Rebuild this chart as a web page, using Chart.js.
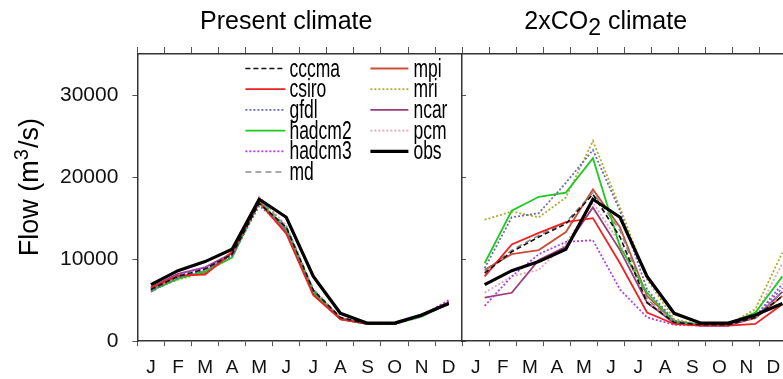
<!DOCTYPE html>
<html>
<head>
<meta charset="utf-8">
<script src="https://cdn.jsdelivr.net/npm/chart.js@4.4.1/dist/chart.umd.min.js"></script>
<style>
  html, body { margin: 0; padding: 0; background: #fff; overflow: hidden; }
  #wrap { width: 797px; height: 379px; }
</style>
</head>
<body>
<div id="wrap"><canvas id="flow" width="797" height="379"></canvas></div>
<script>
const months = ['J', 'F', 'M', 'A', 'M', 'J', 'J', 'A', 'S', 'O', 'N', 'D'];
const yTicks = [0, 10000, 20000, 30000];
const yMax = 35000;
const panelTitles = ['Present climate', '2xCO2 climate'];

// present climate (m3/s)
const cccmaPresent  = [6300, 7900, 8800, 10600, 16800, 13900, 6200, 2900, 2100, 2100, 3100, 4600];
const csiroPresent  = [6500, 8000, 8100, 10800, 16900, 13100, 5600, 2700, 2100, 2100, 3200, 4700];
const gfdlPresent   = [6100, 7700, 8700, 10400, 16500, 13800, 6100, 2800, 2100, 2100, 3000, 4800];
const hadcm2Present = [6200, 7600, 8500, 10200, 17000, 13700, 6000, 2700, 2100, 2100, 3000, 4600];
const hadcm3Present = [6400, 8100, 9000, 10500, 17200, 13500, 5800, 2700, 2100, 2100, 3100, 5000];
const mdPresent     = [6000, 7700, 8600, 10500, 17300, 14000, 6300, 2800, 2100, 2100, 3100, 4700];
const mpiPresent    = [6400, 7900, 8300, 10900, 17100, 13300, 5800, 2700, 2100, 2100, 3200, 4600];
const mriPresent    = [6200, 7500, 8400, 10300, 16900, 13700, 6100, 2800, 2100, 2100, 3000, 4700];
const ncarPresent   = [6600, 8200, 9000, 10700, 17000, 13400, 5800, 2700, 2100, 2100, 3100, 4500];
const pcmPresent    = [6200, 7800, 8800, 10700, 17600, 14100, 6400, 2900, 2100, 2100, 3200, 4900];

// 2xCO2 climate
const cccmaFuture  = [8300, 10900, 12700, 14300, 17900, 12700, 4700, 2300, 2000, 2000, 2900, 5500];
const csiroFuture  = [7900, 11800, 13200, 14500, 15000, 9500, 3500, 2100, 1900, 1900, 2100, 4500];
const gfdlFuture   = [8900, 15100, 15600, 19300, 23300, 15900, 6300, 2500, 2000, 2000, 3000, 7000];
const hadcm2Future = [9500, 15900, 17600, 18100, 22300, 11500, 5900, 2400, 2000, 2100, 3500, 7900];
const hadcm3Future = [4300, 7900, 10600, 12100, 12300, 6300, 2900, 2000, 1900, 1900, 3000, 6500];
const mdFuture     = [8500, 11100, 12900, 14500, 18100, 13500, 5100, 2400, 2000, 2000, 2900, 6000];
const mpiFuture    = [8700, 10600, 11100, 13300, 18500, 13900, 5500, 2400, 2000, 2000, 2800, 5500];
const mriFuture    = [14800, 15800, 15100, 17500, 24400, 16300, 7500, 2700, 2000, 2000, 3900, 10800];
const ncarFuture   = [5300, 5900, 9900, 11500, 16300, 11100, 4700, 2200, 1900, 1900, 2900, 6000];
const pcmFuture    = [5900, 7900, 8700, 11900, 16900, 11900, 4900, 2300, 1900, 1900, 3100, 9500];

// observed, same in both panels
const obsFlow = [6900, 8600, 9700, 11200, 17300, 15100, 7900, 3400, 2200, 2200, 3200, 4600];

const FONT = "'Liberation Sans', Arial, Helvetica, sans-serif";
const futureShift = 0.33; // right panel curves sit a little right of the month centres

const series = [
  { name: 'cccma',  present: cccmaPresent,  future: cccmaFuture,  color: '#111111', dash: [5, 3], width: 1.6 },
  { name: 'csiro',  present: csiroPresent,  future: csiroFuture,  color: '#ee2020', dash: [],     width: 1.8 },
  { name: 'gfdl',   present: gfdlPresent,   future: gfdlFuture,   color: '#6a6ab0', dash: [2, 2], width: 1.8 },
  { name: 'hadcm2', present: hadcm2Present, future: hadcm2Future, color: '#22c822', dash: [],     width: 1.8 },
  { name: 'hadcm3', present: hadcm3Present, future: hadcm3Future, color: '#b03cf0', dash: [2, 2], width: 1.8 },
  { name: 'md',     present: mdPresent,     future: mdFuture,     color: '#8c8c8c', dash: [6, 4], width: 1.6 },
  { name: 'mpi',    present: mpiPresent,    future: mpiFuture,    color: '#c8503a', dash: [],     width: 1.8 },
  { name: 'mri',    present: mriPresent,    future: mriFuture,    color: '#b0ab2a', dash: [2, 2], width: 1.8 },
  { name: 'ncar',   present: ncarPresent,   future: ncarFuture,   color: '#9a3d78', dash: [],     width: 1.8 },
  { name: 'pcm',    present: pcmPresent,    future: pcmFuture,    color: '#e3a3b8', dash: [2, 2], width: 1.8 },
  { name: 'obs',    present: obsFlow,       future: obsFlow,      color: '#000000', dash: [],     width: 3.2 }
];

const datasets = [];
series.forEach(s => {
  const style = {
    label: s.name, borderColor: s.color, borderDash: s.dash, borderWidth: s.width,
    pointRadius: 0, tension: 0, fill: false, order: s.name === 'obs' ? 0 : 1
  };
  datasets.push(Object.assign({ data: s.present.map((v, i) => ({ x: i + 0.5, y: v })) }, style));
  datasets.push(Object.assign({ data: s.future.map((v, i) => ({ x: 12 + i + 0.5 + futureShift, y: v })) }, style));
});

const isMark = v => Number.isInteger(v);

// panel titles, y title and the in-plot legend
const decor = {
  id: 'decor',
  afterDraw(chart) {
    const ctx = chart.ctx, area = chart.chartArea, xs = chart.scales.x;
    ctx.save();
    ctx.fillStyle = '#000';
    ctx.textBaseline = 'alphabetic';

    // titles
    ctx.font = '25px ' + FONT;
    ctx.textAlign = 'center';
    ctx.fillText(panelTitles[0], xs.getPixelForValue(5.5), 29);
    const a = '2xCO', b = '2', c = ' climate';
    ctx.textAlign = 'left';
    const wa = ctx.measureText(a).width, wc = ctx.measureText(c).width;
    ctx.font = '23px ' + FONT;
    const wb = ctx.measureText(b).width;
    let tx = xs.getPixelForValue(17.3) - (wa + wb + wc) / 2;
    ctx.font = '25px ' + FONT;
    ctx.fillText(a, tx, 29);
    ctx.font = '23px ' + FONT;
    ctx.fillText(b, tx + wa, 35);
    ctx.font = '25px ' + FONT;
    ctx.fillText(c, tx + wa + wb, 29);

    // y axis title
    ctx.save();
    ctx.translate(38, (area.top + area.bottom) / 2 - 10);
    ctx.rotate(-Math.PI / 2);
    ctx.font = '27px ' + FONT;
    const p1 = 'Flow (m', p3 = '/s)';
    const w1 = ctx.measureText(p1).width, w3 = ctx.measureText(p3).width;
    ctx.font = '20px ' + FONT;
    const w2 = ctx.measureText('3').width;
    let px = -(w1 + w2 + w3) / 2;
    ctx.font = '27px ' + FONT;
    ctx.fillText(p1, px, 0);
    ctx.font = '20px ' + FONT;
    ctx.fillText('3', px + w1, -10);
    ctx.font = '27px ' + FONT;
    ctx.fillText(p3, px + w1 + w2 + 1, 0);
    ctx.restore();

    // legend, two columns
    const cols = [
      { names: ['cccma', 'csiro', 'gfdl', 'hadcm2', 'hadcm3', 'md'], x0: 108, x1: 148, tx: 152 },
      { names: ['mpi', 'mri', 'ncar', 'pcm', 'obs'], x0: 233, x1: 271, tx: 276 }
    ];
    cols.forEach(col => {
      col.names.forEach((n, r) => {
        const s = series.find(d => d.name === n);
        const y = area.top + 14.5 + r * 20.7;
        ctx.save();
        ctx.strokeStyle = s.color;
        ctx.lineWidth = s.width;
        ctx.setLineDash(s.dash);
        ctx.beginPath();
        ctx.moveTo(area.left + col.x0, y);
        ctx.lineTo(area.left + col.x1, y);
        ctx.stroke();
        ctx.restore();
        ctx.save();
        ctx.translate(area.left + col.tx, y + 8);
        ctx.scale(0.7, 1);
        ctx.font = '25px ' + FONT;
        ctx.textAlign = 'left';
        ctx.fillText(n, 0, 0);
        ctx.restore();
      });
    });
    ctx.restore();
  }
};

new Chart(document.getElementById('flow'), {
  type: 'line',
  data: { datasets },
  options: {
    responsive: false,
    animation: false,
    events: [],
    layout: { padding: { left: 46, right: 1, top: 47, bottom: -10 } },
    plugins: { legend: { display: false }, tooltip: { enabled: false } },
    scales: {
      x: {
        type: 'linear', position: 'bottom', min: 0, max: 24,
        afterBuildTicks: sc => {
          const t = [];
          for (let i = 0; i <= 48; i++) t.push({ value: i / 2 });
          sc.ticks = t;
        },
        ticks: {
          autoSkip: false, maxRotation: 0, padding: 10, color: '#111',
          font: { family: FONT, size: 19 },
          callback: v => isMark(v) ? '' : months[Math.floor(v) % 12]
        },
        grid: {
          drawOnChartArea: false, drawTicks: true, tickLength: 5,
          tickColor: c => isMark(c.tick.value) ? '#555' : 'rgba(0,0,0,0)'
        },
        border: { color: '#333', width: 1.5 }
      },
      xTop: {
        type: 'linear', axis: 'x', position: 'top', min: 0, max: 24,
        afterBuildTicks: sc => {
          const t = [];
          for (let i = 0; i <= 24; i++) t.push({ value: i });
          sc.ticks = t;
        },
        ticks: { display: false },
        grid: { drawOnChartArea: false, drawTicks: true, tickLength: 7, tickColor: '#555' },
        border: { color: '#333', width: 1.5 }
      },
      y: {
        type: 'linear', position: 'left', min: 0, max: yMax,
        afterBuildTicks: sc => { sc.ticks = yTicks.map(v => ({ value: v })); },
        ticks: { padding: 14, color: '#111', font: { family: FONT, size: 21 }, callback: v => String(v) },
        grid: { drawOnChartArea: false, drawTicks: true, tickLength: 5, tickColor: '#555' },
        border: { color: '#333', width: 1.5 }
      },
      yMid: {
        type: 'linear', axis: 'y', position: { x: 12 }, min: 0, max: yMax,
        afterBuildTicks: sc => { sc.ticks = yTicks.map(v => ({ value: v })); },
        ticks: { display: false },
        grid: { drawOnChartArea: false, drawTicks: true, tickLength: -5, tickColor: '#555' },
        border: { color: '#333', width: 1.5 }
      }
    }
  },
  plugins: [decor]
});
</script>
</body>
</html>
